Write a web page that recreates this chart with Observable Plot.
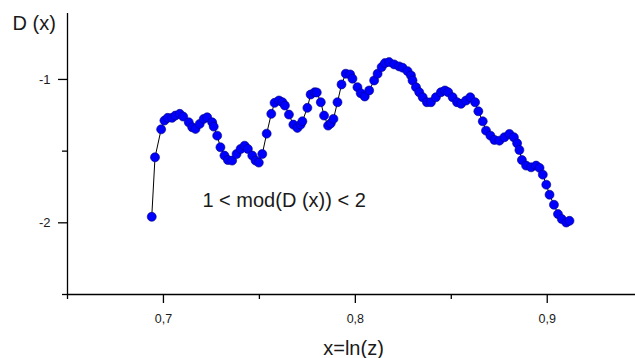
<!DOCTYPE html>
<html>
<head>
<meta charset="utf-8">
<script src="https://cdn.jsdelivr.net/npm/d3@7"></script>
<script src="https://cdn.jsdelivr.net/npm/@observablehq/plot@0.6"></script>
<style>
  html, body { margin: 0; padding: 0; background: #fff; overflow: hidden; }
</style>
</head>
<body>
<div id="chart"></div>
<script>
// x = ln(z) sample positions
const xValues = [
  0.6939, 0.6956, 0.6988, 0.7005, 0.7022, 0.7045, 0.7062, 0.7085, 0.7103, 0.7132,
  0.7150, 0.7167, 0.7189, 0.7210, 0.7228, 0.7254, 0.7262, 0.7280, 0.7297, 0.7318,
  0.7336, 0.7358, 0.7381, 0.7402, 0.7423, 0.7440, 0.7463, 0.7480, 0.7497, 0.7515,
  0.7538, 0.7562, 0.7579, 0.7602, 0.7620, 0.7633, 0.7654, 0.7677, 0.7698, 0.7715,
  0.7724, 0.7750, 0.7767, 0.7788, 0.7799, 0.7820, 0.7837, 0.7858, 0.7872, 0.7886,
  0.7907, 0.7928, 0.7950, 0.7973, 0.7985, 0.8011, 0.8028, 0.8049, 0.8072, 0.8098,
  0.8116, 0.8137, 0.8154, 0.8176, 0.8202, 0.8228, 0.8246, 0.8272, 0.8290, 0.8298,
  0.8316, 0.8333, 0.8351, 0.8373, 0.8394, 0.8420, 0.8446, 0.8467, 0.8484, 0.8507,
  0.8530, 0.8551, 0.8577, 0.8599, 0.8624, 0.8641, 0.8664, 0.8681, 0.8704, 0.8725,
  0.8751, 0.8777, 0.8803, 0.8826, 0.8843, 0.8855, 0.8868, 0.8890, 0.8916, 0.8942,
  0.8960, 0.8977, 0.8995, 0.9012, 0.9035, 0.9056, 0.9076, 0.9099, 0.9116
];

// D(x) at each sample
const dValues = [
  -1.958, -1.543, -1.348, -1.287, -1.268, -1.268, -1.252, -1.240, -1.259, -1.299,
  -1.334, -1.345, -1.310, -1.275, -1.264, -1.299, -1.329, -1.392, -1.473, -1.531,
  -1.562, -1.566, -1.520, -1.485, -1.462, -1.485, -1.531, -1.566, -1.580, -1.520,
  -1.378, -1.240, -1.163, -1.147, -1.159, -1.182, -1.245, -1.315, -1.338, -1.315,
  -1.292, -1.198, -1.105, -1.089, -1.091, -1.159, -1.252, -1.322, -1.306, -1.275,
  -1.159, -1.035, -0.960, -0.965, -0.995, -1.054, -1.096, -1.119, -1.077, -1.007,
  -0.960, -0.914, -0.886, -0.879, -0.895, -0.909, -0.918, -0.942, -0.972, -1.007,
  -1.054, -1.089, -1.124, -1.159, -1.159, -1.124, -1.089, -1.077, -1.089, -1.124,
  -1.159, -1.170, -1.147, -1.124, -1.159, -1.222, -1.292, -1.357, -1.392, -1.422,
  -1.427, -1.403, -1.380, -1.403, -1.445, -1.492, -1.562, -1.601, -1.613, -1.601,
  -1.617, -1.664, -1.734, -1.804, -1.874, -1.939, -1.974, -1.998, -1.986
];

const xTicks = [0.7, 0.8, 0.9];
const xMinorTicks = [0.65, 0.75, 0.85];
const yTicks = [-1, -2];
const yMinorTicks = [-1.5, -2.5];
const xDomain = [0.65, 0.946];
const yDomain = [-2.5, -0.54];

const xTitle = "x=ln(z)";
const yTitle = "D (x)";
const noteText = "1 < mod(D (x)) < 2";
const noteX = 0.7203;
const noteY = -1.846;

const data = xValues.map((x, i) => ({x, d: dValues[i]}));
const fmt = v => v.toFixed(1).replace(".", ",");
const textColor = "#1a1a1a";

const chart = Plot.plot({
  width: 635,
  height: 358,
  marginLeft: 67,
  marginRight: 0,
  marginTop: 13,
  marginBottom: 64,
  style: {fontFamily: "'Liberation Sans', Arial, sans-serif", background: "#fff", color: textColor},
  x: {domain: xDomain},
  y: {domain: yDomain},
  marks: [
    // axis lines
    Plot.ruleX([xDomain[0]], {stroke: "#000", strokeWidth: 1.3}),
    Plot.ruleY([yDomain[0]], {stroke: "#000", strokeWidth: 1.3}),
    // major and minor ticks
    Plot.axisX({ticks: xTicks, tickSize: 9, tickPadding: 11, tickFormat: fmt, fontSize: 12.5, label: null, stroke: "#000", strokeWidth: 1.3}),
    Plot.axisX({ticks: xMinorTicks, tickSize: 5, tickFormat: () => "", label: null, stroke: "#000", strokeWidth: 1.3}),
    Plot.axisY({ticks: yTicks, tickSize: 9, tickPadding: 8, tickFormat: d => String(d), fontSize: 13, label: null, stroke: "#000", strokeWidth: 1.3}),
    Plot.axisY({ticks: yMinorTicks, tickSize: 5, tickFormat: () => "", label: null, stroke: "#000", strokeWidth: 1.3}),
    // axis titles
    Plot.text([yTitle], {frameAnchor: "top-left", text: d => d, dx: -55, dy: 10, textAnchor: "start", lineAnchor: "middle", fontSize: 20, fill: textColor}),
    Plot.text([xTitle], {frameAnchor: "bottom", text: d => d, dx: 2, dy: 54, lineAnchor: "middle", fontSize: 20, fill: textColor}),
    // annotation
    Plot.text([noteText], {x: () => noteX, y: () => noteY, text: d => d, textAnchor: "start", fontSize: 20, fill: textColor}),
    // series
    Plot.line(data, {x: "x", y: "d", stroke: "#000", strokeWidth: 1}),
    Plot.dot(data, {x: "x", y: "d", r: 4.5, fill: "#0000ff", stroke: "#00007a", strokeWidth: 0.6})
  ]
});

document.getElementById("chart").append(chart);
</script>
</body>
</html>
